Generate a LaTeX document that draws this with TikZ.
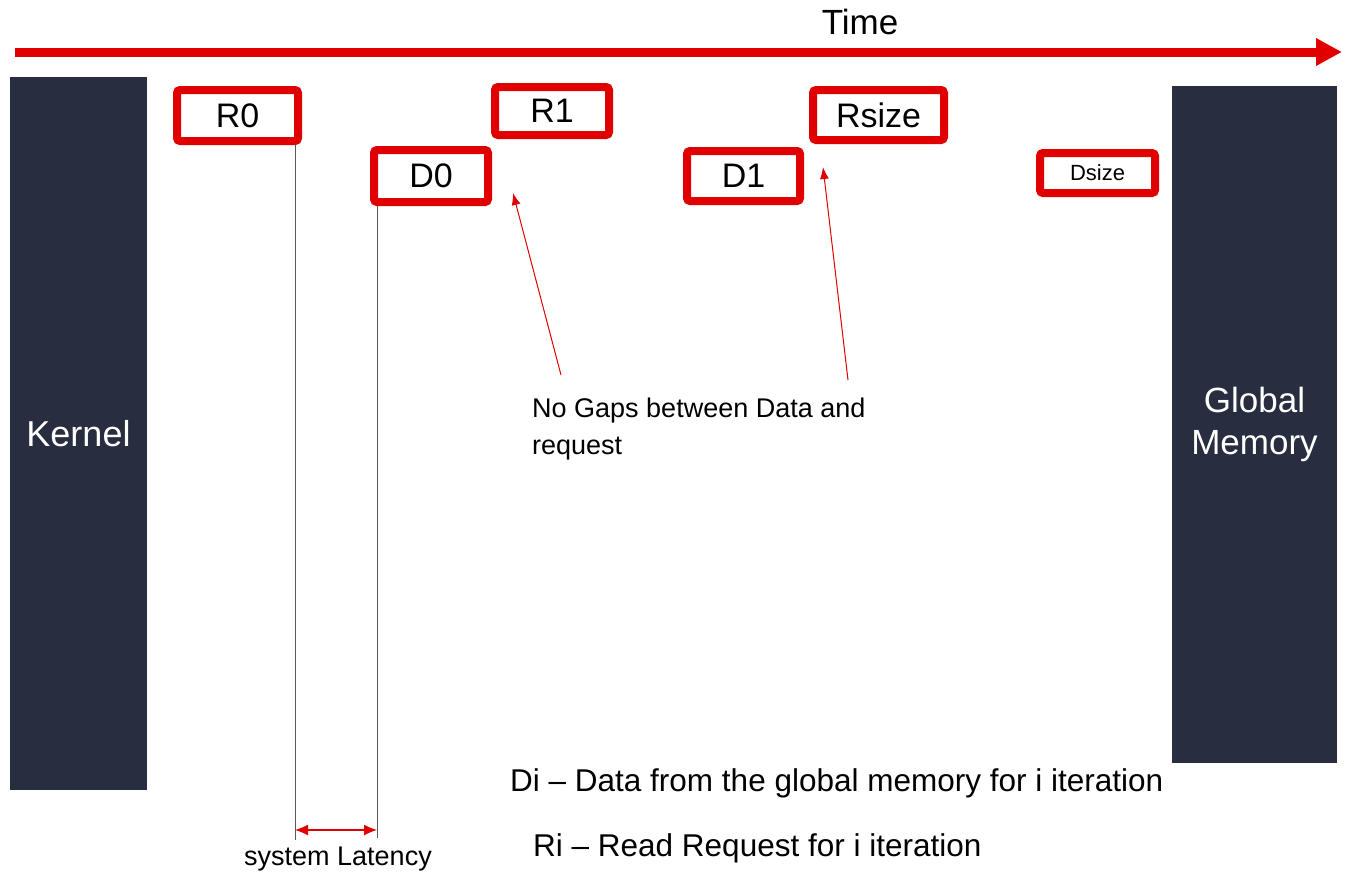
\documentclass[tikz,border=0pt]{standalone}
\usepackage{fontspec}
\setmainfont{Liberation Sans}
\usetikzlibrary{arrows.meta}
\definecolor{navy}{HTML}{282D3F}
\definecolor{rred}{HTML}{E00000}
\tikzset{
  slab/.style={fill=navy, draw=none, text=white, inner sep=0pt, align=center},
  ibox/.style={draw=rred, line width=8pt, rounded corners=3pt, fill=white, inner sep=0pt, font=\fontsize{34}{38}\selectfont},
  guide/.style={draw=black!65, line width=1pt},
  note/.style={draw=rred, line width=1pt, -{Latex[length=12pt,width=9pt]}},
  lbl/.style={inner sep=0pt, anchor=west}
}
\begin{document}
\begin{tikzpicture}[x=1pt,y=-1pt]
\useasboundingbox (0,0) rectangle (1346,876);
% time axis
\coordinate (t0) at (15,52);
\coordinate (t1) at (1342,52);
\draw[rred, line width=9pt, -{Triangle[length=26pt,width=26pt]}] (t0) -- (t1);
\node[inner sep=0pt, font=\fontsize{35}{40}\selectfont] (time) at (860,22) {Time};
% slabs
\node[slab, minimum width=137pt, minimum height=713pt, font=\fontsize{36}{42}\selectfont] (kernel) at (78.5,433.5) {Kernel};
\node[slab, minimum width=165pt, minimum height=677pt, font=\fontsize{35}{42}\selectfont] (gm) at (1254.5,424) {Global\\Memory};
% boxes
\node[ibox, minimum width=121pt, minimum height=51pt] (r0) at (237.5,115.5) {R0};
\node[ibox, minimum width=114pt, minimum height=48pt] (r1) at (552,111) {R1};
\node[ibox, minimum width=114pt, minimum height=52pt] (d0) at (431,176) {D0};
\node[ibox, minimum width=113pt, minimum height=50pt] (d1) at (743.5,176) {D1};
\node[ibox, minimum width=131pt, minimum height=50pt] (rs) at (878.5,115) {Rsize};
\node[ibox, minimum width=115pt, minimum height=40pt, font=\fontsize{22}{26}\selectfont] (ds) at (1097.5,173) {Dsize};
% guides
\coordinate (g0) at (295,840);
\coordinate (g1) at (377,838);
\draw[guide] (r0.south -| g0) -- (g0);
\draw[guide] (d0.south -| g1) -- (g1);
\draw[rred, line width=1.2pt, {Latex[length=13pt,width=11pt]}-{Latex[length=13pt,width=11pt]}] (295,830) -- (377,830);
\node[inner sep=0pt, font=\fontsize{27}{30}\selectfont] (lat) at (338,859) {system Latency};
% notes
\coordinate (a0) at (561,375);
\coordinate (a1) at (848,380);
\coordinate (h0) at (513,193);
\coordinate (h1) at (823,167);
\draw[note] (a0) -- (h0);
\draw[note] (a1) -- (h1);
\node[lbl, align=left, font=\fontsize{27}{37}\selectfont] (gap) at (532,429) {No Gaps between Data and\\request};
% legend
\node[lbl, font=\fontsize{31.5}{34}\selectfont] (di) at (510,783) {Di -- Data from the global memory for i iteration};
\node[lbl, font=\fontsize{31.5}{34}\selectfont] (ri) at (533,848) {Ri -- Read Request for i iteration};
\end{tikzpicture}
\end{document}
